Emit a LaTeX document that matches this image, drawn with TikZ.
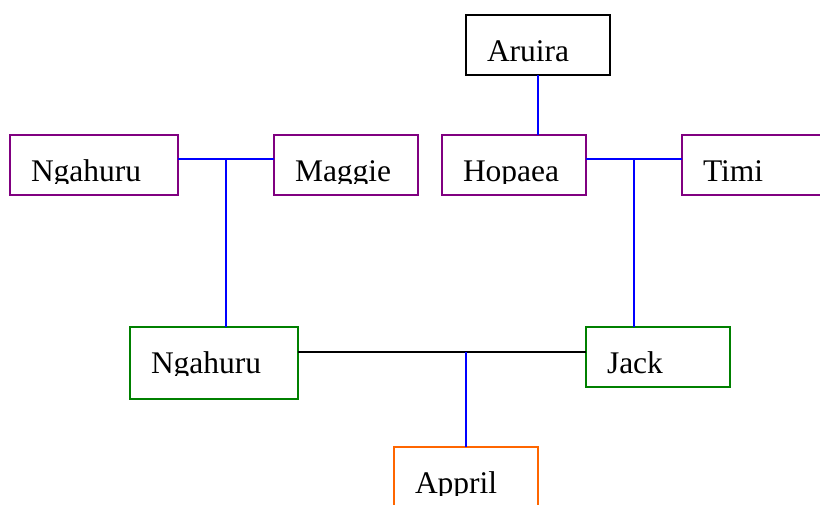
\documentclass[tikz,border=0pt]{standalone}
\usepackage{fontspec}
\setmainfont{Liberation Serif}
\definecolor{cpurple}{RGB}{128,0,128}
\definecolor{cgreen}{RGB}{0,128,0}
\definecolor{corange}{RGB}{255,102,0}
\begin{document}
\begin{tikzpicture}[x=1pt,y=-1pt,
  box/.style={draw=#1, line width=1.6pt, rectangle, minimum height=60pt, minimum width=144pt, anchor=north west, inner sep=0pt, outer sep=0pt},
  lbl/.style={anchor=base west, inner sep=0pt, outer sep=0pt, font=\fontsize{31.5}{36}\selectfont},
  bl/.style={draw=blue, line width=1.6pt},
  bk/.style={draw=black, line width=1.6pt}]
\useasboundingbox (0,0) rectangle (820,504);
% boxes
\node[box=black] (aru) at (466,15) {};
\node[box=cpurple, minimum width=168pt] (nga1) at (10,135) {};
\node[box=cpurple] (mag) at (274,135) {};
\node[box=cpurple] (hop) at (442,135) {};
\node[box=cpurple] (tim) at (682,135) {};
\node[box=cgreen, minimum width=168pt, minimum height=72pt] (nga2) at (130,327) {};
\node[box=cgreen] (jac) at (586,327) {};
\node[box=corange] (app) at (394,447) {};
% labels, clipped just below the baseline
\foreach \nm/\txt/\lx/\ty/\rx in {aru/Aruira/466/15/610, nga1/Ngahuru/10/135/178, mag/Maggie/274/135/418, hop/Hopaea/442/135/586, tim/Timi/682/135/826, nga2/Ngahuru/130/327/298, jac/Jack/586/327/730, app/Appril/394/447/538}{
  \begin{scope}
    \clip (\lx,\ty) rectangle (\rx,\ty+48.5);
    \node[lbl] (\nm-t) at (\lx+21,\ty+46.5) {\txt};
  \end{scope}
}
% connectors
\coordinate (j1) at (226,159);
\coordinate (j2) at (634,159);
\coordinate (j3) at (466,352);
\draw[bl] (aru.south) -- (aru.south |- hop.north);
\draw[bl] (nga1.east |- j1) -- (mag.west |- j1);
\draw[bl] (j1) -- (j1 |- nga2.north);
\draw[bl] (hop.east |- j2) -- (tim.west |- j2);
\draw[bl] (j2) -- (j2 |- jac.north);
\draw[bk] (nga2.east |- j3) -- (jac.west |- j3);
\draw[bl] (j3) -- (j3 |- app.north);
\end{tikzpicture}
\end{document}
